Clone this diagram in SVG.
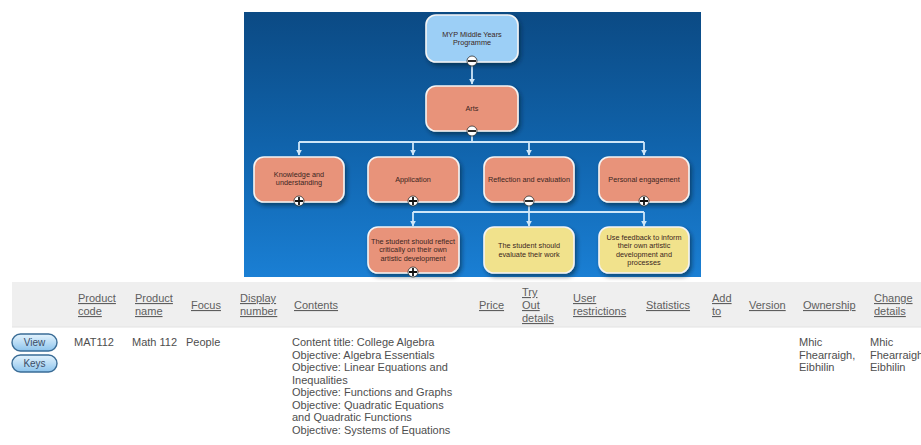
<svg xmlns="http://www.w3.org/2000/svg" width="921" height="445" viewBox="0 0 921 445">
<defs>
  <linearGradient id="bg" x1="0" y1="0" x2="0" y2="1">
    <stop offset="0" stop-color="#0b4a84"/>
    <stop offset="0.5" stop-color="#1063ab"/>
    <stop offset="1" stop-color="#1a7fd4"/>
  </linearGradient>
  <linearGradient id="btn" x1="0" y1="0" x2="0" y2="1">
    <stop offset="0" stop-color="#e4f3fd"/>
    <stop offset="0.5" stop-color="#b9dcf5"/>
    <stop offset="1" stop-color="#8cc3ec"/>
  </linearGradient>
  <filter id="sh" x="-20%" y="-20%" width="150%" height="150%">
    <feDropShadow dx="2" dy="3" stdDeviation="2" flood-color="#001a33" flood-opacity="0.55"/>
  </filter>
  <marker id="ah" viewBox="0 0 10 10" refX="9" refY="5" markerWidth="6" markerHeight="6" markerUnits="userSpaceOnUse" orient="auto">
    <path d="M0,0 L10,5 L0,10 z" fill="#cfe6f8"/>
  </marker>
</defs>
<style>
  .node rect.box { stroke: #f4f4f4; stroke-width: 1.6; filter: url(#sh); }
  .salmon { fill: #e8937a; }
  .blue { fill: #9ccff6; }
  .yellow { fill: #f1e28c; }
  .nt { font-family: "Liberation Sans", Arial, sans-serif; font-size: 7.3px; fill: #3b2622; text-anchor: middle; }
  .conn { stroke: #cfe6f8; stroke-width: 1.8; fill: none; }
  .icon circle { fill: #ffffff; stroke: #2a2a2a; stroke-width: 0.8; }
  .icon path { stroke: #111; stroke-width: 1.8; fill: none; }
  .th { font-family: "Liberation Sans", Arial, sans-serif; font-size: 11px; fill: #5e5e5e; text-decoration: underline; }
  .td { font-family: "Liberation Sans", Arial, sans-serif; font-size: 11px; fill: #4e4e4e; }
  .bt { font-family: "Liberation Sans", Arial, sans-serif; font-size: 10px; fill: #3b4c66; text-anchor: middle; }
</style>

<rect x="0" y="0" width="921" height="445" fill="#ffffff"/>
<rect x="244" y="12" width="457" height="265" fill="url(#bg)"/>

<g id="connectors">
  <path class="conn" d="M472,65 V84" marker-end="url(#ah)"/>
  <path class="conn" d="M472,135 V142"/>
  <path class="conn" d="M299,142 H644"/>
  <path class="conn" d="M299,142 V155" marker-end="url(#ah)"/>
  <path class="conn" d="M413,142 V155" marker-end="url(#ah)"/>
  <path class="conn" d="M529,142 V155" marker-end="url(#ah)"/>
  <path class="conn" d="M644,142 V155" marker-end="url(#ah)"/>
  <path class="conn" d="M529,205 V212"/>
  <path class="conn" d="M413,212 H644"/>
  <path class="conn" d="M413,212 V226" marker-end="url(#ah)"/>
  <path class="conn" d="M529,212 V226" marker-end="url(#ah)"/>
  <path class="conn" d="M644,212 V226" marker-end="url(#ah)"/>
</g>

<g id="node-myp" class="node">
  <rect class="box blue" x="426" y="15" width="92" height="47" rx="10"/>
  <text class="nt" x="472" y="37">MYP Middle Years</text>
  <text class="nt" x="472" y="45">Programme</text>
</g>
<g id="node-arts" class="node">
  <rect class="box salmon" x="426" y="86" width="92" height="45" rx="10"/>
  <text class="nt" x="472" y="111">Arts</text>
</g>
<g id="node-knowledge" class="node">
  <rect class="box salmon" x="254" y="157" width="90" height="45" rx="10"/>
  <text class="nt" x="299" y="177">Knowledge and</text>
  <text class="nt" x="299" y="185">understanding</text>
</g>
<g id="node-application" class="node">
  <rect class="box salmon" x="368" y="157" width="91" height="45" rx="10"/>
  <text class="nt" x="413" y="181.5">Application</text>
</g>
<g id="node-reflection" class="node">
  <rect class="box salmon" x="484" y="157" width="90" height="45" rx="10"/>
  <text class="nt" x="529" y="181.5">Reflection and evaluation</text>
</g>
<g id="node-personal" class="node">
  <rect class="box salmon" x="599" y="157" width="90" height="45" rx="10"/>
  <text class="nt" x="644" y="181.5">Personal engagement</text>
</g>
<g id="node-reflect" class="node">
  <rect class="box salmon" x="368" y="227" width="91" height="46" rx="10"/>
  <text class="nt" x="413" y="243.5">The student should reflect</text>
  <text class="nt" x="413" y="252">critically on their own</text>
  <text class="nt" x="413" y="260.5">artistic development</text>
</g>
<g id="node-evaluate" class="node">
  <rect class="box yellow" x="484" y="227" width="90" height="46" rx="10"/>
  <text class="nt" x="529" y="248">The student should</text>
  <text class="nt" x="529" y="256.5">evaluate their work</text>
</g>
<g id="node-feedback" class="node">
  <rect class="box yellow" x="599" y="227" width="90" height="46" rx="10"/>
  <text class="nt" x="644" y="239.5">Use feedback to inform</text>
  <text class="nt" x="644" y="248">their own artistic</text>
  <text class="nt" x="644" y="256.5">development and</text>
  <text class="nt" x="644" y="265">processes</text>
</g>

<g id="icons">
  <g class="icon"><circle cx="472" cy="61" r="5"/><path d="M468,61 H476"/></g>
  <g class="icon"><circle cx="472" cy="131" r="5"/><path d="M468,131 H476"/></g>
  <g class="icon"><circle cx="299" cy="201" r="5"/><path d="M295,201 H303 M299,197 V205"/></g>
  <g class="icon"><circle cx="413" cy="201" r="5"/><path d="M409,201 H417 M413,197 V205"/></g>
  <g class="icon"><circle cx="529" cy="201" r="5"/><path d="M525,201 H533"/></g>
  <g class="icon"><circle cx="644" cy="201" r="5"/><path d="M640,201 H648 M644,197 V205"/></g>
  <g class="icon"><circle cx="413" cy="272" r="5"/><path d="M409,272 H417 M413,268 V276"/></g>
</g>

<g id="table">
  <rect x="12" y="282" width="909" height="45" fill="#efefef"/>
  <line x1="12" y1="327" x2="921" y2="327" stroke="#e2e2e2" stroke-width="1"/>
  <text class="th" x="78" y="302">Product</text>
  <text class="th" x="78" y="315">code</text>
  <text class="th" x="135" y="302">Product</text>
  <text class="th" x="135" y="315">name</text>
  <text class="th" x="191" y="309">Focus</text>
  <text class="th" x="240" y="302">Display</text>
  <text class="th" x="240" y="315">number</text>
  <text class="th" x="294" y="309">Contents</text>
  <text class="th" x="479" y="309">Price</text>
  <text class="th" x="522" y="296">Try</text>
  <text class="th" x="522" y="309">Out</text>
  <text class="th" x="522" y="322">details</text>
  <text class="th" x="573" y="302">User</text>
  <text class="th" x="573" y="315">restrictions</text>
  <text class="th" x="646" y="309">Statistics</text>
  <text class="th" x="712" y="302">Add</text>
  <text class="th" x="712" y="315">to</text>
  <text class="th" x="749" y="309">Version</text>
  <text class="th" x="803" y="309">Ownership</text>
  <text class="th" x="874" y="302">Change</text>
  <text class="th" x="874" y="315">details</text>

  <g id="btn-view">
    <rect x="12" y="334" width="45" height="17" rx="8.5" fill="url(#btn)" stroke="#3a6c96" stroke-width="1.4"/>
    <text class="bt" x="34.5" y="346">View</text>
  </g>
  <g id="btn-keys">
    <rect x="12" y="355" width="45" height="17" rx="8.5" fill="url(#btn)" stroke="#3a6c96" stroke-width="1.4"/>
    <text class="bt" x="34.5" y="367">Keys</text>
  </g>

  <text class="td" x="74" y="346">MAT112</text>
  <text class="td" x="132" y="346">Math 112</text>
  <text class="td" x="186" y="346">People</text>
  <text class="td" x="292" y="346">Content title: College Algebra</text>
  <text class="td" x="292" y="358.5">Objective: Algebra Essentials</text>
  <text class="td" x="292" y="371">Objective: Linear Equations and</text>
  <text class="td" x="292" y="383.5">Inequalities</text>
  <text class="td" x="292" y="396">Objective: Functions and Graphs</text>
  <text class="td" x="292" y="408.5">Objective: Quadratic Equations</text>
  <text class="td" x="292" y="421">and Quadratic Functions</text>
  <text class="td" x="292" y="433.5">Objective: Systems of Equations</text>
  <text class="td" x="799" y="346">Mhic</text>
  <text class="td" x="799" y="358.5">Fhearraigh,</text>
  <text class="td" x="799" y="371">Eibhilin</text>
  <text class="td" x="870" y="346">Mhic</text>
  <text class="td" x="870" y="358.5">Fhearraigh,</text>
  <text class="td" x="870" y="371">Eibhilin</text>
</g>
</svg>
